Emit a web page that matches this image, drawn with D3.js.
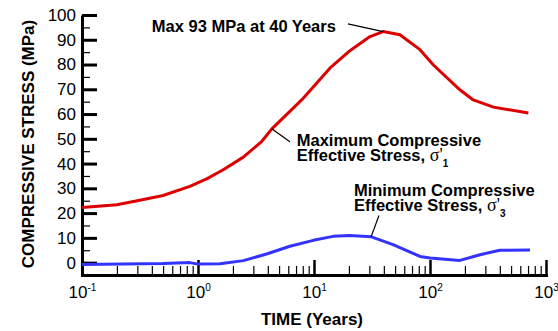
<!DOCTYPE html>
<html>
<head>
<meta charset="utf-8">
<script src="https://cdn.jsdelivr.net/npm/d3@7"></script>
<style>
  body { margin: 0; background: #fff; }
  text { font-family: "Liberation Sans", Arial, sans-serif; }
</style>
</head>
<body>
<div id="canvas"></div>
<script>
// values
const maxTime   = [0.1, 0.2, 0.3, 0.5, 0.85, 1.2, 1.65, 2.46, 3.54, 4.31, 7.83, 13.7, 20.4, 30.4, 39.5, 55, 82, 107, 181, 236, 352, 705];
const maxStress = [22.3, 23.4, 25, 27.1, 30.8, 33.9, 37.5, 42.6, 48.9, 53.9, 65.7, 78.5, 85.6, 91.3, 93.3, 92, 86, 79.8, 69.8, 65.7, 62.8, 60.4];

const minTime   = [0.1, 0.5, 0.85, 1.0, 1.55, 2.46, 3.9, 6.2, 9.85, 14.6, 20.2, 31.3, 48, 82, 100, 181, 270, 400, 728];
const minStress = [-0.8, -0.4, 0.0, -0.6, -0.5, 0.8, 3.5, 6.6, 9.0, 10.6, 11.0, 10.4, 7.3, 2.5, 1.9, 0.9, 3.2, 5.0, 5.1];

const yMajor = [0, 10, 20, 30, 40, 50, 60, 70, 80, 90, 100];
const yMinor = [5, 15, 25, 35, 45, 55, 65, 75, 85, 95];
const xMajor = [0.1, 1, 10, 100, 1000];
const xMinor = [0.2, 0.3, 0.4, 0.5, 0.6, 0.7, 0.8, 0.9,
                2, 3, 4, 5, 6, 7, 8, 9,
                20, 30, 40, 50, 60, 70, 80, 90,
                200, 300, 400, 500, 600, 700, 800, 900];

const width = 558, height = 331;

const svg = d3.select("#canvas").append("svg")
    .attr("width", width)
    .attr("height", height);

const x = d3.scaleLog().domain([0.1, 1000]).range([82, 546]);
const y = d3.scaleLinear().domain([-5, 100]).range([275, 15]);

// minor ticks first, thin
svg.append("g")
    .attr("transform", "translate(82,0)")
    .call(d3.axisLeft(y).tickValues(yMinor).tickSize(-8).tickSizeOuter(0).tickFormat(""))
    .call(g => g.select(".domain").remove())
    .call(g => g.selectAll("line").attr("stroke-width", 1.2));

svg.append("g")
    .attr("transform", "translate(0,275)")
    .call(d3.axisBottom(x).tickValues(xMinor).tickSize(-9).tickSizeOuter(0).tickFormat(""))
    .call(g => g.select(".domain").remove())
    .call(g => g.selectAll("line").attr("stroke-width", 1.2));

// y axis
svg.append("g")
    .attr("transform", "translate(82,0)")
    .call(d3.axisLeft(y).tickValues(yMajor).tickSize(-15).tickSizeOuter(0).tickPadding(6))
    .call(g => g.select(".domain").attr("stroke-width", 3))
    .call(g => g.selectAll("line").attr("stroke-width", 3))
    .call(g => g.selectAll("text")
        .attr("font-family", "Liberation Sans, Arial, sans-serif")
        .attr("font-size", 17)
        .attr("fill", "#000"));

// x axis
const xAxis = svg.append("g")
    .attr("transform", "translate(0,275)")
    .call(d3.axisBottom(x).tickValues(xMajor).tickSize(-15).tickSizeOuter(0).tickPadding(0).tickFormat(() => ""))
    .call(g => g.select(".domain").attr("stroke-width", 3).attr("stroke-linecap", "square"))
    .call(g => g.selectAll("line").attr("stroke-width", 2.5));

xAxis.selectAll(".tick text")
    .attr("font-family", "Liberation Sans, Arial, sans-serif")
    .attr("font-size", 17)
    .attr("fill", "#000")
    .attr("dy", null)
    .attr("y", 22.5)
    .each(function (d) {
        const t = d3.select(this);
        t.append("tspan").text("10");
        t.append("tspan").attr("font-size", 10).attr("dy", -7).text(Math.round(Math.log10(d)));
    });

// curves
const line = d3.line()
    .x(d => x(d[0]))
    .y(d => y(d[1]));

svg.append("path")
    .datum(d3.zip(maxTime, maxStress))
    .attr("fill", "none")
    .attr("stroke", "#dd0000")
    .attr("stroke-width", 3)
    .attr("stroke-linejoin", "round")
    .attr("d", line);

svg.append("path")
    .datum(d3.zip(minTime, minStress))
    .attr("fill", "none")
    .attr("stroke", "#3333ff")
    .attr("stroke-width", 3)
    .attr("stroke-linejoin", "round")
    .attr("d", line);

// leader lines, in data units
const leaders = [
    [[19.6, 96.4], [39.5, 93.3]],
    [[4.35, 54.0], [6.2, 48.8]],
    [[36.3, 19.0], [31.0, 10.3]]
];

svg.selectAll(".leader")
    .data(leaders)
    .join("line")
    .attr("class", "leader")
    .attr("x1", d => x(d[0][0]))
    .attr("y1", d => y(d[0][1]))
    .attr("x2", d => x(d[1][0]))
    .attr("y2", d => y(d[1][1]))
    .attr("stroke", "#000")
    .attr("stroke-width", 1.2);

// labels
function label(t, v, first, second, sub) {
    const g = svg.append("text")
        .attr("x", x(t))
        .attr("y", y(v))
        .attr("font-size", 16.5)
        .attr("font-weight", "bold")
        .attr("fill", "#000");
    g.append("tspan").text(first);
    if (second) {
        g.append("tspan").attr("x", x(t)).attr("dy", 15.7)
            .text(second + " ")
            .append("tspan")
            .attr("font-family", "Liberation Serif, Times New Roman, serif")
            .attr("font-weight", "normal")
            .attr("font-size", 18)
            .text("\u03c3'");
        g.append("tspan").attr("font-size", 10).attr("dy", 6).text(sub);
    }
}

label(0.40, 93.1, "Max 93 MPa at 40 Years");
label(7.1, 47.2, "Maximum Compressive", "Effective Stress,", "1");
label(22.1, 27.0, "Minimum Compressive", "Effective Stress,", "3");

// axis titles
svg.append("text")
    .attr("transform", "translate(34,144) rotate(-90)")
    .attr("text-anchor", "middle")
    .attr("font-size", 17)
    .attr("font-weight", "bold")
    .text("COMPRESSIVE STRESS (MPa)");

svg.append("text")
    .attr("x", 312)
    .attr("y", 325)
    .attr("text-anchor", "middle")
    .attr("font-size", 17)
    .attr("font-weight", "bold")
    .text("TIME (Years)");
</script>
</body>
</html>
